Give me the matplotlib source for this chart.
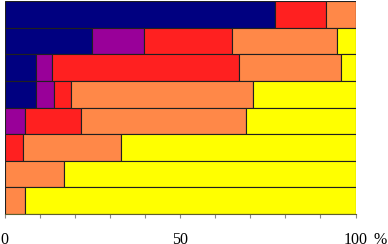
import matplotlib
matplotlib.use("Agg")
import matplotlib.pyplot as plt
from matplotlib.ticker import MultipleLocator
import matplotlib.transforms as mtransforms

rows = ["R1", "R2", "R3", "R4", "R5", "R6", "R7", "R8"]
series_names = ["S1", "S2", "S3", "S4", "S5"]
s1 = [77.1, 25.0, 8.9, 8.9, 0.0, 0.0, 0.0, 0.0]
s2 = [0.0, 14.8, 4.5, 5.1, 5.7, 0.0, 0.0, 0.0]
s3 = [14.4, 24.9, 53.4, 4.9, 16.2, 5.2, 0.0, 0.0]
s4 = [8.5, 30.1, 29.0, 52.0, 46.8, 27.9, 17.0, 5.7]
s5 = [0.0, 5.2, 4.2, 29.1, 31.3, 66.9, 83.0, 94.3]
colors = ["#000080", "#990099", "#FF2020", "#FF8848", "#FFFF00"]
tick_vals = [0, 50, 100]
tick_labels = ["0", "50", "100"]

fig = plt.figure(figsize=(3.88, 2.44), dpi=100)
ax = fig.add_axes([4.5/388, 30/244, 351/388, 213/244])

ypos = list(range(len(rows)))[::-1]
left = [0.0] * len(rows)
for vals, c in zip([s1, s2, s3, s4, s5], colors):
    ax.barh(ypos, vals, left=left, height=1.0, color=c, edgecolor="#202020", linewidth=0.8)
    left = [l + v for l, v in zip(left, vals)]

tick_len = 3.0
tick_pad = 10.0
ax.set_xlim(0, 100)
ax.set_ylim(-0.5, len(rows) - 0.5)
ax.set_yticks([])
ax.set_xticks(tick_vals)
ax.set_xticklabels(tick_labels, family="Liberation Serif", fontsize=11.5)
ax.xaxis.set_minor_locator(MultipleLocator(10))
ax.tick_params(axis="x", which="both", direction="out", length=tick_len, width=0.8,
               color="#888888", pad=tick_pad)
for s in ["left", "top", "right"]:
    ax.spines[s].set_visible(False)
ax.spines["bottom"].set_color("#606030")
ax.spines["bottom"].set_linewidth(0.8)
ax.axvline(100, color="#909060", lw=0.6)

trans = mtransforms.blended_transform_factory(ax.transData, ax.transAxes)
ax.annotate("%", xy=(100, 0), xycoords=trans, xytext=(13.3, -(tick_len + tick_pad)),
            textcoords="offset points", family="Liberation Serif", fontsize=11.5,
            ha="left", va="top", annotation_clip=False)

fig.savefig("out.png", dpi=100)
